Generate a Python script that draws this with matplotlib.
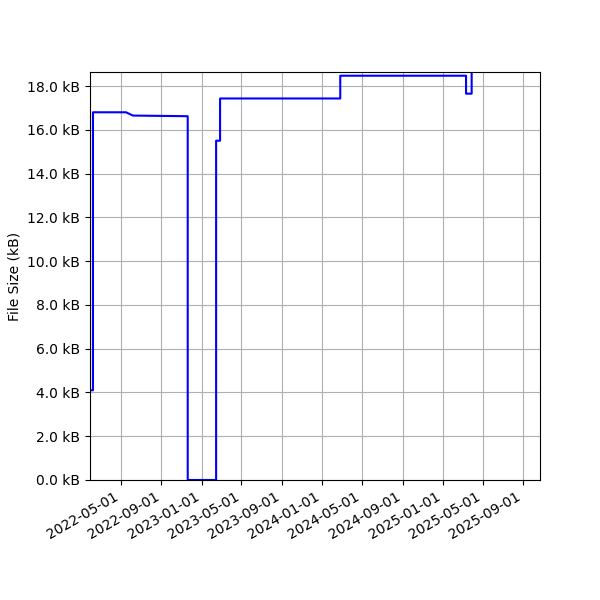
import matplotlib
matplotlib.use("Agg")
import matplotlib.pyplot as plt
import matplotlib.dates as mdates
from matplotlib.ticker import FuncFormatter, MultipleLocator
import pandas as pd

# file size history (kB)
dates = ["2022-01-28", "2022-02-06", "2022-02-06", "2022-05-17", "2022-06-07",
         "2022-11-20", "2022-11-20", "2023-02-14", "2023-02-14", "2023-02-26",
         "2023-02-26", "2024-02-25", "2024-02-25", "2025-03-12", "2025-03-12",
         "2025-03-29", "2025-03-29"]
sizes = [4.1, 4.1, 16.8, 16.8, 16.65,
         16.62, 0.0, 0.0, 15.5, 15.5,
         17.43, 17.43, 18.47, 18.47, 17.65,
         17.65, 20.0]

x = pd.to_datetime(dates)

fig, ax = plt.subplots(figsize=(6, 6), dpi=100)
ax.plot(x, sizes, color="blue", linewidth=1.5)

ax.set_ylabel("File Size (kB)")
ax.yaxis.set_major_locator(MultipleLocator(2.0))
ax.yaxis.set_major_formatter(FuncFormatter(lambda v, pos: f"{v:.1f} kB"))
ax.set_ylim(0, 18.64)
ax.set_xlim(pd.Timestamp("2022-01-28"), pd.Timestamp("2025-10-22"))
ax.xaxis.set_major_locator(mdates.MonthLocator(bymonth=[1, 5, 9]))
ax.xaxis.set_major_formatter(mdates.DateFormatter("%Y-%m-%d"))
ax.grid(True)

fig.autofmt_xdate()
fig.subplots_adjust(left=0.15, right=0.9, top=0.88, bottom=0.2)
fig.savefig("out.png")
